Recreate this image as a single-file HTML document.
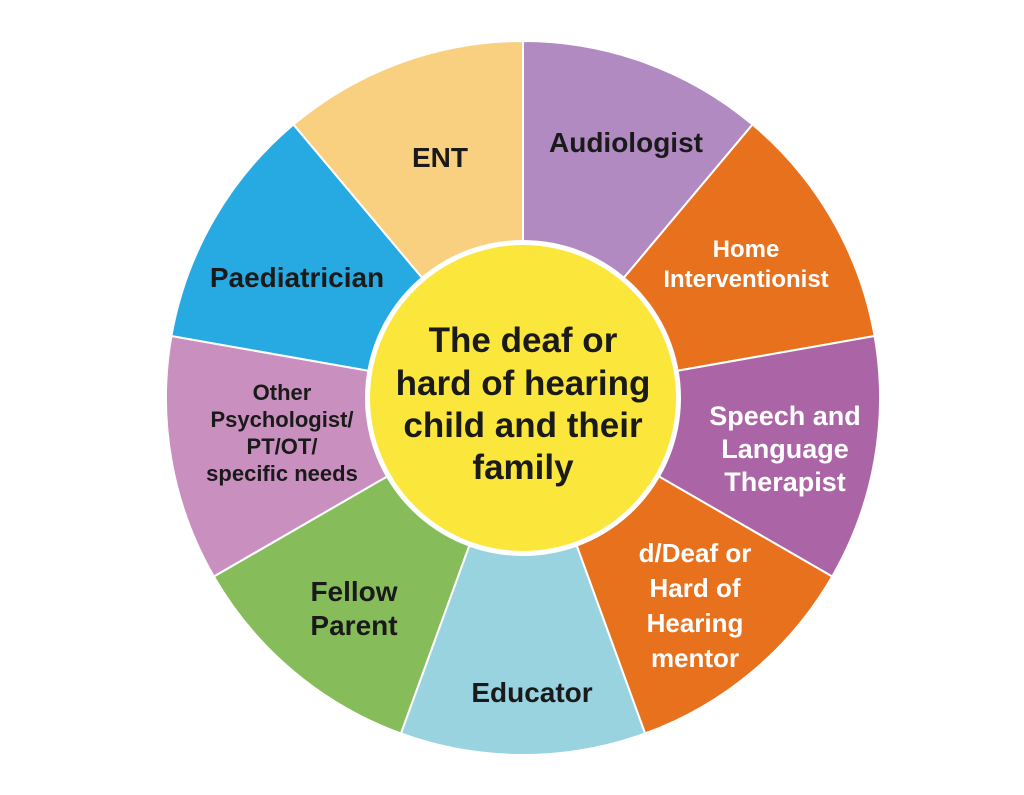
<!DOCTYPE html>
<html><head><meta charset="utf-8"><style>
html,body{margin:0;padding:0;background:#fff;width:1024px;height:795px;overflow:hidden}
text{font-family:"Liberation Sans",Arial,sans-serif;font-weight:bold;text-anchor:middle}
</style></head><body>
<svg id="s" width="1024" height="795" viewBox="0 0 1024 795">
<g id="segs"></g>
<circle cx="523" cy="398" r="158" fill="#fff"/>
<circle cx="523" cy="398" r="153" fill="#fbe73c"/>
<g font-size="28" fill="#1a1a1a">
<text x="440" y="167">ENT</text>
<text x="626" y="152">Audiologist</text>
<text x="297" y="287">Paediatrician</text>
<text x="354" y="601">Fellow</text>
<text x="354" y="635">Parent</text>
<text x="532" y="702">Educator</text>
</g>
<g font-size="22" fill="#1a1a1a">
<text x="282" y="400">Other</text>
<text x="282" y="427">Psychologist/</text>
<text x="282" y="454">PT/OT/</text>
<text x="282" y="481">specific needs</text>
</g>
<g font-size="24" fill="#fff">
<text x="746" y="257">Home</text>
<text x="746" y="287">Interventionist</text>
</g>
<g font-size="27" fill="#fff">
<text x="785" y="425">Speech and</text>
<text x="785" y="458">Language</text>
<text x="785" y="491">Therapist</text>
</g>
<g font-size="26" fill="#fff">
<text x="695" y="562">d/Deaf or</text>
<text x="695" y="597">Hard of</text>
<text x="695" y="632">Hearing</text>
<text x="695" y="667">mentor</text>
</g>
<g font-size="35" fill="#1a1a1a">
<text x="523" y="352">The deaf or</text>
<text x="523" y="395">hard of hearing</text>
<text x="523" y="437">child and their</text>
<text x="523" y="479">family</text>
</g>
</svg>
<script>
var cols=["#b08ac0","#e8711e","#ab65a6","#e8711e","#9ad3e0","#86bc5a","#c98fbe","#27aae1","#f9cf80"];
var cx=523,cy=398,r=357,g=document.getElementById("segs"),h="";
for(var i=0;i<9;i++){
 var a1=(90-40*i)*Math.PI/180,a2=(90-40*(i+1))*Math.PI/180;
 var x1=cx+r*Math.cos(a1),y1=cy-r*Math.sin(a1),x2=cx+r*Math.cos(a2),y2=cy-r*Math.sin(a2);
 h+='<path d="M'+cx+','+cy+' L'+x1.toFixed(1)+','+y1.toFixed(1)+' A'+r+','+r+' 0 0 1 '+x2.toFixed(1)+','+y2.toFixed(1)+' Z" fill="'+cols[i]+'" stroke="#fff" stroke-width="2"/>';
}
g.innerHTML=h;
</script>
</body></html>
